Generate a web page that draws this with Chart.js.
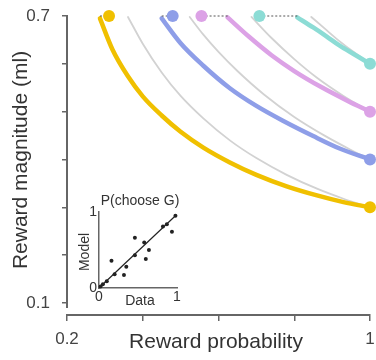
<!DOCTYPE html>
<html lang="en">
<head>
<meta charset="utf-8" />
<title>Reward magnitude vs probability</title>
<script src="https://cdn.jsdelivr.net/npm/chart.js@4"></script>
<style>
    html, body { margin: 0; padding: 0; background: #fff; }
    #wrap { position: relative; width: 376px; height: 360px; }
    #mainChart { position: absolute; left: 0; top: 0; }
    #insetChart { position: absolute; left: 70px; top: 190px; }
</style>
</head>
<body>
<div id="wrap">
    <canvas id="mainChart" width="376" height="360"></canvas>
    <canvas id="insetChart" width="125" height="125"></canvas>
</div>
<script>
    // indifference curves, one per reward level (x = probability, y = magnitude in ml)
    const goldX = [0.287, 0.32, 0.36, 0.40, 0.45, 0.50, 0.56, 0.63, 0.70, 0.78, 0.86, 0.93, 1.0];
    const goldY = [0.695, 0.630, 0.575, 0.532, 0.492, 0.458, 0.425, 0.394, 0.368, 0.344, 0.325, 0.311, 0.300];
    const blueX = [0.450, 0.50, 0.56, 0.63, 0.70, 0.77, 0.85, 0.92, 1.0];
    const blueY = [0.695, 0.643, 0.596, 0.549, 0.512, 0.481, 0.449, 0.423, 0.400];
    const pinkX = [0.624, 0.68, 0.74, 0.80, 0.87, 0.94, 1.0];
    const pinkY = [0.697, 0.657, 0.618, 0.585, 0.552, 0.523, 0.500];
    const cyanX = [0.808, 0.85, 0.884, 0.92, 0.96, 1.0];
    const cyanY = [0.697, 0.676, 0.658, 0.638, 0.619, 0.600];

    // model predictions (grey)
    const goldModelX = [0.361, 0.40, 0.45, 0.50, 0.56, 0.63, 0.70, 0.78, 0.86, 0.93, 1.0];
    const goldModelY = [0.698, 0.642, 0.582, 0.533, 0.486, 0.440, 0.403, 0.368, 0.339, 0.318, 0.300];
    const blueModelX = [0.524, 0.56, 0.60, 0.65, 0.72, 0.80, 0.88, 0.95, 1.0];
    const blueModelY = [0.698, 0.661, 0.625, 0.585, 0.536, 0.489, 0.450, 0.420, 0.400];
    const pinkModelX = [0.687, 0.74, 0.80, 0.86, 0.93, 1.0];
    const pinkModelY = [0.698, 0.654, 0.610, 0.571, 0.533, 0.500];
    const cyanModelX = [0.845, 0.88, 0.92, 0.96, 1.0];
    const cyanModelY = [0.698, 0.674, 0.647, 0.623, 0.600];

    // measured points on the top row, and where the dashed link meets the curve
    const topMag = 0.7;
    const dotProb = [0.311, 0.479, 0.555, 0.708];
    const linkProb = [0.287, 0.450, 0.624, 0.808];
    const endMag = [0.3, 0.4, 0.5, 0.6];

    const xTicks = [0.2, 0.4, 0.6, 0.8, 1.0];
    const xTickLabels = ['0.2', '', '', '', '1'];
    const yTicks = [0.1, 0.2, 0.3, 0.4, 0.5, 0.6, 0.7];
    const yTickLabels = ['0.1', '', '', '', '', '', '0.7'];

    // inset: P(choose G), data vs model
    const insetData = [0.02, 0.05, 0.10, 0.16, 0.20, 0.32, 0.35, 0.46, 0.46, 0.58, 0.60, 0.64, 0.82, 0.87, 0.935, 0.98];
    const insetModel = [0.02, 0.05, 0.09, 0.36, 0.18, 0.17, 0.28, 0.43, 0.66, 0.60, 0.38, 0.50, 0.81, 0.84, 0.74, 0.95];
    const insetFitX = [0, 0.99];
    const insetFitY = [0, 0.96];

    const colors = ['#f0c000', '#8e9ee8', '#dca2e6', '#8cdcd5'];
    const grey = '#d2d2d2';
    const font = "'Liberation Sans', Arial, sans-serif";

    const zip = (xs, ys) => xs.map((x, i) => ({ x: x, y: ys[i] }));

    const curve = (xs, ys, color, width, order) => ({
        data: zip(xs, ys),
        showLine: true,
        borderColor: color,
        borderWidth: width,
        borderCapStyle: 'round',
        pointRadius: 0,
        tension: 0.4,
        cubicInterpolationMode: 'monotone',
        clip: false,
        order: order
    });

    const datasets = [];
    [[goldModelX, goldModelY], [blueModelX, blueModelY], [pinkModelX, pinkModelY], [cyanModelX, cyanModelY]]
        .forEach(c => datasets.push(curve(c[0], c[1], grey, 1.8, 3)));
    [[goldX, goldY], [blueX, blueY], [pinkX, pinkY], [cyanX, cyanY]]
        .forEach((c, i) => datasets.push(curve(c[0], c[1], colors[i], 4.5, 2)));
    dotProb.forEach((p, i) => {
        datasets.push({
            data: [{ x: linkProb[i], y: topMag }, { x: p, y: topMag }],
            showLine: true,
            borderColor: '#555',
            borderWidth: 1,
            borderDash: [2, 2],
            pointRadius: 0,
            clip: false,
            order: 1
        });
        datasets.push({
            data: [{ x: p, y: topMag }, { x: 1.0, y: endMag[i] }],
            showLine: false,
            pointRadius: 6,
            pointBackgroundColor: colors[i],
            pointBorderWidth: 0,
            clip: false,
            order: 0
        });
    });

    // y axis line stops just short of the x axis
    const axisPlugin = {
        id: 'axisLines',
        beforeDatasetsDraw(chart) {
            const ctx = chart.ctx;
            const y = chart.scales.y;
            const left = chart.chartArea.left;
            ctx.save();
            ctx.strokeStyle = '#666';
            ctx.lineWidth = 2;
            ctx.beginPath();
            ctx.moveTo(left, y.getPixelForValue(0.7) - 1);
            ctx.lineTo(left, y.getPixelForValue(0.1) + 5);
            ctx.stroke();
            ctx.restore();
        },
        afterDraw(chart) {
            const ctx = chart.ctx;
            ctx.save();
            ctx.fillStyle = '#333';
            ctx.font = '21px ' + font;
            ctx.textAlign = 'center';
            ctx.textBaseline = 'middle';
            ctx.fillText('Reward probability', 216, 342);
            ctx.translate(21, 160);
            ctx.rotate(-Math.PI / 2);
            ctx.fillText('Reward magnitude (ml)', 0, 0);
            ctx.restore();
        }
    };

    new Chart(document.getElementById('mainChart'), {
        type: 'scatter',
        data: { datasets: datasets },
        options: {
            responsive: false,
            animation: false,
            layout: { padding: { top: 16, right: 5, left: 0, bottom: 0 } },
            plugins: { legend: { display: false }, tooltip: { enabled: false } },
            scales: {
                x: {
                    type: 'linear',
                    min: 0.2,
                    max: 1.0,
                    afterBuildTicks: s => { s.ticks = xTicks.map(v => ({ value: v })); },
                    afterFit: s => { s.height = 45; s.paddingLeft = 0; s.paddingRight = 0; },
                    ticks: {
                        callback: (v, i) => xTickLabels[i],
                        color: '#444',
                        font: { size: 17, family: font },
                        padding: 8,
                        maxRotation: 0,
                        autoSkip: false
                    },
                    grid: { drawOnChartArea: false, tickLength: 6, color: '#666', lineWidth: 1.5 },
                    border: { display: true, color: '#666', width: 2 }
                },
                y: {
                    type: 'linear',
                    min: 0.075,
                    max: 0.7,
                    afterBuildTicks: s => { s.ticks = yTicks.map(v => ({ value: v })); },
                    afterFit: s => { s.width = 67; s.paddingTop = 0; s.paddingBottom = 0; },
                    ticks: {
                        callback: (v, i) => yTickLabels[i],
                        color: '#444',
                        font: { size: 17, family: font },
                        padding: 12,
                        autoSkip: false
                    },
                    grid: { drawOnChartArea: false, tickLength: 5, color: '#666', lineWidth: 1.5 },
                    border: { display: false }
                }
            }
        },
        plugins: [axisPlugin]
    });

    const insetText = {
        id: 'insetText',
        afterDraw(chart) {
            const ctx = chart.ctx;
            ctx.save();
            ctx.fillStyle = '#333';
            ctx.font = '14px ' + font;
            ctx.textAlign = 'center';
            ctx.textBaseline = 'middle';
            ctx.fillText('P(choose G)', 70, 11);
            ctx.fillText('Data', 70, 111);
            ctx.translate(15, 62);
            ctx.rotate(-Math.PI / 2);
            ctx.fillText('Model', 0, 0);
            ctx.restore();
        }
    };

    new Chart(document.getElementById('insetChart'), {
        type: 'scatter',
        data: {
            datasets: [
                {
                    data: zip(insetData, insetModel),
                    pointRadius: 2,
                    pointBackgroundColor: '#222',
                    pointBorderWidth: 0,
                    clip: false,
                    order: 0
                },
                {
                    data: zip(insetFitX, insetFitY),
                    showLine: true,
                    borderColor: '#222',
                    borderWidth: 1.2,
                    pointRadius: 0,
                    clip: false,
                    order: 1
                }
            ]
        },
        options: {
            responsive: false,
            animation: false,
            layout: { padding: { top: 22, right: 18, left: 0, bottom: 0 } },
            plugins: { legend: { display: false }, tooltip: { enabled: false } },
            scales: {
                x: {
                    type: 'linear',
                    min: 0,
                    max: 1,
                    afterBuildTicks: s => { s.ticks = [{ value: 0 }, { value: 1 }]; },
                    afterFit: s => { s.height = 27; s.paddingLeft = 0; s.paddingRight = 0; },
                    ticks: { color: '#333', font: { size: 14, family: font }, padding: 1, maxRotation: 0 },
                    grid: { display: false, drawTicks: false },
                    border: { display: true, color: '#666', width: 1.5 }
                },
                y: {
                    type: 'linear',
                    min: 0,
                    max: 1,
                    afterBuildTicks: s => { s.ticks = [{ value: 0 }, { value: 1 }]; },
                    afterFit: s => { s.width = 29; s.paddingTop = 0; s.paddingBottom = 0; },
                    ticks: { color: '#333', font: { size: 14, family: font }, padding: 2 },
                    grid: { display: false, drawTicks: false },
                    border: { display: true, color: '#666', width: 1.5 }
                }
            }
        },
        plugins: [insetText]
    });
</script>
</body>
</html>
